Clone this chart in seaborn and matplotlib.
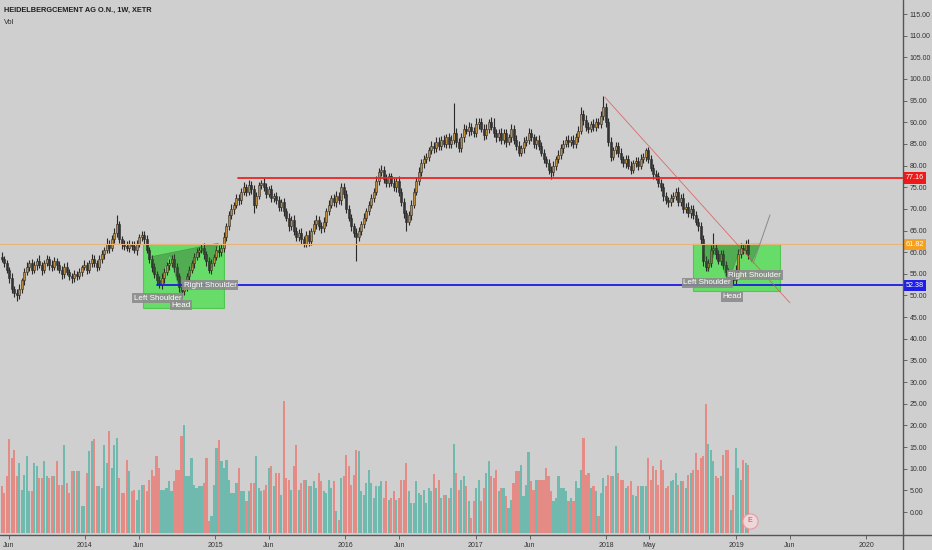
# heidelbergcement_weekly.py

# Import required libraries
import numpy as np
import pandas as pd
import matplotlib
matplotlib.use('Agg')
import matplotlib.pyplot as plt
import matplotlib.dates as mdates
import matplotlib.transforms as mtransforms
from matplotlib.patches import Rectangle, Polygon
from matplotlib.lines import Line2D
import seaborn as sns

# Weekly closes (EUR), first week starts 2013-05-13
closes = [
    58.5, 57.5, 56.0, 54.0, 51.5, 50.5, 50.0, 51.5, 53.5, 55.5,
    56.5, 57.5, 56.0, 57.0, 58.0, 57.0, 56.0, 57.5, 58.5, 57.0,
    56.5, 58.0, 57.0, 56.0, 55.0, 56.5, 55.5, 54.5, 54.0, 55.0,
    54.5, 55.5, 56.5, 57.0, 56.0, 57.5, 58.5, 57.5, 56.5, 58.5,
    59.5, 60.5, 62.0, 61.0, 63.0, 64.5, 66.5, 63.0, 62.0, 61.5,
    61.0, 62.0, 61.5, 60.5, 62.0, 63.5, 64.0, 63.0, 60.5, 58.5,
    56.5, 55.0, 53.5, 52.5, 54.0, 55.5, 57.0, 57.5, 58.5, 56.5,
    54.5, 52.0, 51.0, 52.0, 54.5, 56.0, 57.5, 59.0, 60.0, 60.5,
    61.0, 59.5, 58.0, 56.0, 57.5, 59.0, 60.5, 60.0, 61.0, 63.5,
    66.0, 68.5, 70.0, 71.0, 72.5, 72.0, 74.0, 75.0, 74.0, 75.5,
    74.5, 71.0, 73.0, 75.5, 76.0, 75.0, 73.5, 74.5, 72.5, 73.0,
    72.0, 70.5, 71.5, 69.5, 68.0, 66.0, 67.5, 65.0, 63.5, 64.5,
    63.0, 62.0, 64.0, 62.5, 65.0, 66.5, 67.5, 66.0, 65.5, 67.0,
    69.5, 71.0, 72.5, 71.5, 73.0, 72.0, 75.0, 73.5, 70.0, 68.0,
    66.0, 64.5, 63.5, 65.0, 66.5, 68.0, 69.5, 71.0, 72.5, 74.0,
    76.5, 78.5, 79.0, 77.0, 76.0, 77.5, 76.0, 75.0, 76.5, 74.0,
    71.5, 69.0, 67.0, 68.5, 71.0, 74.0, 76.5, 78.5, 80.5, 81.5,
    82.0, 83.5, 84.5, 84.0, 85.5, 84.5, 86.0, 85.0, 86.5, 85.0,
    86.0, 87.5, 85.5, 84.0, 86.5, 88.5, 88.0, 89.0, 88.0, 87.5,
    89.5, 90.0, 88.5, 87.0, 88.5, 90.0, 89.0, 87.5, 86.5, 87.5,
    86.0, 87.5, 85.5, 86.5, 88.5, 86.0, 84.5, 83.0, 84.0, 85.5,
    86.0, 87.5, 86.5, 85.0, 86.0, 84.5, 83.0, 81.5, 80.5, 79.0,
    78.5, 80.0, 81.5, 82.5, 84.0, 85.0, 86.0, 85.5, 86.0, 85.0,
    86.5, 88.0, 92.0, 90.5, 89.0, 88.5, 89.5, 89.0, 90.0, 89.5,
    91.5, 93.5, 90.0, 85.5, 82.0, 83.5, 84.5, 83.0, 81.5, 80.5,
    81.5, 80.0, 79.0, 80.5, 81.0, 80.0, 81.5, 82.0, 83.5, 81.5,
    79.5, 78.0, 77.5, 76.0, 75.0, 73.0, 72.0, 71.5, 72.5, 73.0,
    74.0, 71.5, 72.5, 70.0, 70.5, 69.0, 70.0, 68.5, 67.0, 66.0,
    63.0, 58.0, 56.5, 57.5, 60.5, 61.0, 59.5, 58.0, 59.5, 57.0,
    55.5, 54.0, 54.5, 53.5, 56.0, 59.5, 61.0, 60.5, 62.0, 59.5,
]

# Wick lengths above / below the candle body
upper_wick = [
    1.0, 0.6, 0.8, 0.5, 1.2, 0.7, 0.9, 1.1, 0.6, 0.8,
    1.2, 0.7, 0.9, 1.0, 0.6, 1.3, 0.8, 0.7, 0.9, 0.6,
    1.1, 0.8, 0.6, 1.0, 0.7, 0.9, 1.2, 0.6, 0.8, 1.0,
    0.7, 0.9, 0.6, 1.1, 0.8, 0.7, 1.0, 0.9, 0.6, 0.8,
    1.0, 0.7, 1.2, 0.8, 0.9, 1.1, 2.1, 0.8, 0.7, 0.9,
    1.0, 0.8, 0.6, 1.1, 0.9, 0.7, 0.8, 1.0, 0.9, 0.7,
    0.8, 1.0, 0.7, 0.9, 1.2, 0.8, 0.7, 1.0, 0.8, 1.1,
    0.9, 0.7, 0.8, 1.0, 0.6, 0.9, 0.8, 0.7, 1.0, 0.8,
    0.9, 1.1, 0.7, 0.8, 1.0, 0.6, 0.9, 1.1, 0.8, 1.2,
    0.8, 0.9, 1.1, 0.7, 1.0, 0.9, 0.8, 1.2, 0.7, 1.1,
    0.9, 1.0, 0.8, 0.7, 0.7, 1.1, 0.9, 0.8, 1.0, 0.7,
    0.9, 1.0, 0.8, 0.9, 0.7, 1.1, 0.8, 1.0, 0.9, 0.8,
    1.0, 0.8, 0.9, 1.1, 0.7, 0.9, 1.0, 0.8, 0.9, 1.1,
    0.8, 1.0, 0.7, 0.9, 1.1, 0.8, 1.0, 0.9, 0.8, 1.0,
    0.9, 0.8, 1.0, 0.9, 0.7, 1.1, 0.8, 0.9, 1.0, 0.8,
    1.0, 0.9, 1.2, 0.8, 1.0, 0.9, 0.8, 1.1, 0.7, 1.0,
    0.9, 1.1, 0.8, 0.9, 1.0, 0.8, 0.9, 1.1, 1.0, 0.9,
    1.0, 0.8, 1.1, 0.9, 1.0, 1.2, 0.8, 1.0, 0.9, 1.1,
    1.0, 6.9, 1.2, 0.9, 1.0, 1.1, 0.9, 1.0, 0.8, 1.0,
    1.5, 1.0, 0.9, 1.1, 1.0, 0.8, 1.2, 2.0, 0.9, 1.0,
    1.1, 0.9, 1.0, 0.8, 1.2, 0.9, 1.0, 1.1, 0.8, 1.0,
    0.9, 1.1, 1.0, 0.8, 0.9, 1.1, 1.0, 0.9, 0.8, 1.0,
    0.9, 1.0, 0.8, 1.1, 0.9, 1.0, 0.8, 1.1, 0.9, 1.0,
    1.0, 1.2, 1.5, 0.9, 1.1, 1.0, 0.9, 1.2, 1.0, 0.9,
    1.1, 2.5, 1.0, 0.9, 1.2, 0.8, 1.0, 0.9, 1.1, 0.8,
    1.0, 0.9, 1.1, 0.8, 1.0, 0.9, 1.1, 1.0, 0.5, 0.9,
    1.0, 0.8, 0.9, 1.1, 0.8, 1.0, 0.9, 0.8, 1.0, 0.9,
    0.8, 1.0, 0.9, 1.1, 0.8, 1.0, 0.9, 0.8, 1.0, 0.9,
    1.0, 0.9, 1.1, 1.0, 1.2, 3.4, 0.9, 1.0, 1.1, 0.9,
    1.0, 0.8, 1.1, 0.9, 1.0, 1.2, 1.1, 1.0, 0.9, 1.0,
]
lower_wick = [
    0.8, 1.0, 0.7, 1.1, 0.9, 0.8, 1.2, 0.7, 0.9, 1.0,
    0.7, 0.9, 1.1, 0.8, 1.0, 0.7, 1.2, 0.9, 0.8, 1.0,
    0.9, 0.7, 1.0, 0.8, 1.1, 0.9, 0.7, 1.0, 1.1, 0.8,
    1.0, 0.8, 0.9, 0.7, 1.1, 0.8, 0.9, 1.0, 0.8, 0.7,
    0.9, 1.0, 0.8, 1.1, 0.7, 0.9, 1.0, 0.8, 1.2, 0.9,
    0.8, 1.0, 0.9, 0.7, 1.1, 0.8, 0.9, 1.0, 0.8, 1.1,
    1.0, 0.9, 1.1, 0.7, 0.9, 1.0, 0.8, 1.1, 0.9, 1.0,
    0.9, 1.2, 1.3, 0.8, 1.0, 0.9, 0.8, 1.1, 0.9, 1.0,
    0.8, 1.0, 1.1, 0.9, 1.0, 0.8, 0.9, 1.1, 0.8, 0.9,
    1.0, 0.8, 0.9, 1.1, 0.8, 1.0, 0.9, 0.8, 1.1, 0.9,
    1.0, 2.0, 0.9, 0.8, 1.0, 0.9, 1.1, 0.8, 1.0, 0.9,
    0.8, 1.0, 0.9, 1.1, 0.8, 1.0, 0.9, 1.0, 0.8, 0.9,
    1.0, 0.8, 0.9, 1.0, 0.8, 0.9, 1.1, 0.8, 1.0, 0.9,
    0.9, 1.0, 0.8, 0.9, 1.1, 0.8, 1.0, 0.9, 1.0, 0.9,
    1.0, 0.9, 5.5, 0.8, 1.0, 0.9, 0.8, 1.0, 0.9, 0.8,
    0.9, 1.0, 0.8, 1.1, 0.9, 1.0, 0.8, 0.9, 1.0, 1.1,
    0.9, 1.0, 2.0, 0.8, 1.0, 0.9, 0.8, 1.0, 0.9, 1.0,
    0.8, 1.0, 0.9, 1.1, 0.8, 1.0, 0.9, 0.8, 1.0, 0.9,
    1.0, 0.9, 1.1, 0.8, 0.9, 1.0, 0.8, 1.1, 0.9, 1.0,
    0.9, 1.0, 0.8, 1.1, 0.9, 1.0, 0.8, 0.9, 1.0, 0.8,
    1.0, 0.9, 1.1, 0.8, 1.0, 0.9, 1.0, 0.8, 0.9, 1.0,
    0.9, 1.0, 0.8, 0.9, 1.1, 1.0, 0.9, 1.0, 0.8, 0.9,
    1.5, 0.9, 1.0, 0.8, 0.9, 1.0, 0.8, 1.1, 0.9, 1.0,
    0.9, 1.0, 0.8, 1.1, 0.9, 1.0, 0.8, 0.9, 1.0, 0.9,
    0.8, 1.0, 1.2, 0.9, 1.0, 0.8, 0.9, 1.0, 0.8, 0.9,
    1.0, 0.9, 1.0, 0.8, 0.9, 1.0, 0.8, 0.9, 1.0, 0.9,
    0.8, 1.0, 0.9, 1.0, 0.8, 1.1, 0.9, 1.0, 0.8, 0.9,
    1.0, 0.9, 0.8, 1.0, 0.9, 0.8, 1.0, 0.9, 0.8, 1.0,
    1.0, 1.2, 0.9, 0.8, 1.0, 0.9, 1.1, 0.8, 1.0, 0.9,
    0.9, 1.0, 0.8, 0.9, 1.0, 0.9, 0.8, 1.0, 0.9, 1.0,
]

# Weekly volume (relative units)
volume = [
    47, 40, 57, 94, 75, 83, 57, 70, 43, 58,
    77, 42, 42, 70, 67, 55, 55, 72, 57, 55,
    57, 57, 72, 48, 48, 88, 50, 40, 62, 62,
    62, 62, 27, 27, 60, 82, 92, 94, 47, 47,
    45, 88, 70, 102, 65, 88, 95, 55, 40, 40,
    73, 62, 42, 43, 33, 43, 48, 48, 42, 53,
    63, 57, 77, 65, 43, 43, 45, 52, 42, 52,
    63, 63, 97, 108, 57, 57, 75, 48, 45, 47,
    47, 50, 75, 12, 17, 48, 85, 93, 72, 65,
    73, 53, 40, 40, 50, 65, 42, 42, 32, 42,
    50, 50, 77, 45, 42, 43, 48, 65, 67, 47,
    60, 60, 38, 132, 55, 53, 43, 67, 88, 43,
    50, 53, 53, 47, 47, 52, 45, 60, 52, 42,
    40, 53, 45, 52, 22, 13, 55, 57, 78, 67,
    48, 58, 83, 82, 42, 38, 50, 63, 50, 35,
    47, 47, 52, 35, 52, 33, 35, 42, 33, 35,
    53, 53, 70, 42, 30, 30, 52, 40, 38, 43,
    30, 45, 42, 59, 45, 53, 35, 38, 38, 35,
    45, 89, 60, 43, 53, 57, 47, 32, 15, 32,
    45, 53, 32, 45, 60, 72, 57, 55, 63, 42,
    45, 45, 37, 25, 33, 50, 62, 62, 68, 37,
    48, 81, 52, 43, 53, 53, 53, 53, 65, 57,
    42, 32, 35, 57, 45, 45, 42, 32, 35, 32,
    52, 45, 63, 95, 58, 60, 45, 47, 42, 17,
    40, 55, 47, 58, 57, 57, 87, 60, 53, 53,
    45, 47, 52, 38, 37, 47, 47, 47, 47, 75,
    53, 67, 63, 48, 73, 63, 45, 47, 52, 53,
    60, 48, 52, 52, 45, 58, 60, 63, 80, 63,
    75, 77, 129, 89, 83, 72, 57, 55, 57, 78,
    83, 83, 23, 38, 85, 65, 53, 73, 70, 68,
]

week_start = '2013-05-13'
first_open = 59.0

# x axis ticks
tick_dates = ['2013-06-01', '2014-01-01', '2014-06-01', '2015-01-01', '2015-06-01',
              '2016-01-01', '2016-06-01', '2017-01-01', '2017-06-01', '2018-01-01',
              '2018-05-01', '2019-01-01', '2019-06-01', '2020-01-01']
tick_labels = ['Jun', '2014', 'Jun', '2015', 'Jun', '2016', 'Jun', '2017', 'Jun',
               '2018', 'May', '2019', 'Jun', '2020']

# Horizontal levels: (price, start date, line colour, label colour)
levels = [
    (77.16, '2015-03-06', '#ee2424', '#f01818'),
    (61.82, '2013-05-01', '#e9b47a', '#f5a01e'),
    (52.38, '2014-07-22', '#1c1ce0', '#1e1ee6'),
]

# Inverse head & shoulders drawings
left_box = ('2014-06-12', '2015-01-26', 47.1, 61.9)
right_box = ('2018-09-01', '2019-05-04', 51.0, 61.9)
left_hs_dates = ['2014-07-07', '2014-07-25', '2014-08-27', '2014-09-29',
                 '2014-11-19', '2014-12-22', '2015-01-10']
left_hs_prices = [59.0, 52.4, 59.4, 49.7, 61.3, 56.3, 62.1]
right_hs_dates = ['2018-09-30', '2018-10-14', '2018-11-08', '2018-12-09',
                  '2019-01-17', '2019-02-14', '2019-03-09']
right_hs_prices = [61.7, 55.4, 61.0, 52.9, 61.7, 57.7, 61.9]
hs_labels = [
    ('Left Shoulder', '2014-07-24', 49.4), ('Head', '2014-09-27', 47.8),
    ('Right Shoulder', '2014-12-18', 52.4), ('Left Shoulder', '2018-10-12', 52.9),
    ('Head', '2018-12-20', 49.7), ('Right Shoulder', '2019-02-22', 54.7),
]
trend_dates = ['2017-12-29', '2019-06-01']
trend_prices = [95.8, 48.3]
target_dates = ['2019-02-18', '2019-04-06']
target_prices = [57.4, 68.6]

# Build the candle table
df = pd.DataFrame({'close': closes, 'uw': upper_wick, 'lw': lower_wick, 'vol': volume})
df['date'] = pd.date_range(week_start, periods=len(df), freq='7D')
df['open'] = df['close'].shift(1).fillna(first_open)
df['high'] = df[['open', 'close']].max(axis=1) + df['uw']
df['low'] = df[['open', 'close']].min(axis=1) - df['lw']
df['up'] = df['close'] >= df['open']
x = mdates.date2num(df['date'])

def dn(d):
    return mdates.date2num(pd.Timestamp(d))

# Style
sns.set_theme(style='white')
plt.rcParams['font.family'] = ['Liberation Sans', 'DejaVu Sans']
bg = '#cfcfcf'
up_col, down_col = '#bf8d3e', '#343434'
vol_up, vol_down = '#6fb9ae', '#e38b84'

fig = plt.figure(figsize=(9.32, 5.5), dpi=100, facecolor=bg)
ax = fig.add_axes([0, 15 / 550, 903 / 932, 535 / 550])
ax.set_facecolor(bg)
vax = ax.twinx()

# Volume bars
vcols = np.where(df['up'], vol_up, vol_down)
vax.bar(x, df['vol'], width=6.0, color=vcols, linewidth=0)
vax.set_ylim(-2, 533)
vax.set_yticks([])

# Candles
body_low = np.minimum(df['open'], df['close'])
body_h = np.maximum(np.abs(df['close'] - df['open']), 0.25)
ax.vlines(x, df['low'], df['high'], color='#2a2a2a', linewidth=0.8, zorder=3)
ax.bar(x, body_h, bottom=body_low, width=5.6,
       color=np.where(df['up'], up_col, down_col), edgecolor='#2a2a2a',
       linewidth=0.4, zorder=4)

# Green boxes
for b in [left_box, right_box]:
    ax.add_patch(Rectangle((dn(b[0]), b[2]), dn(b[1]) - dn(b[0]), b[3] - b[2],
                           facecolor='#4be04b', edgecolor='#3cc43c', alpha=0.78,
                           linewidth=0.8, zorder=2))

# Head & shoulders shapes
for ds, ps in [(left_hs_dates, left_hs_prices), (right_hs_dates, right_hs_prices)]:
    pts = np.column_stack([[dn(d) for d in ds], ps])
    ax.add_patch(Polygon(pts, closed=True, facecolor='#2f5f2f', alpha=0.38,
                         edgecolor='#2d6a2d', linewidth=0.5, zorder=5))

# Levels
xmin, xmax = dn('2013-05-08'), dn('2020-04-13')
trans = mtransforms.blended_transform_factory(ax.transAxes, ax.transData)
for price, start, lc, bc in levels:
    lw = 0.8 if price == 61.82 else 1.3
    ax.plot([max(dn(start), xmin), xmax], [price, price], color=lc, linewidth=lw, zorder=6)
    ax.text(1.003, price, f'{price:.2f}', transform=trans, ha='left', va='center',
            fontsize=5.2, color='white', clip_on=False, zorder=20,
            bbox=dict(boxstyle='square,pad=0.3', fc=bc, ec='none'))

# Trend and target lines
ax.plot([dn(d) for d in trend_dates], trend_prices, color='#e05050', linewidth=0.6,
        alpha=0.8, zorder=6)
ax.plot([dn(d) for d in target_dates], target_prices, color='#8a8a8a', linewidth=0.7,
        zorder=6)

# Pattern labels
for txt, d, p in hs_labels:
    ax.text(dn(d), p, txt, ha='center', va='center', fontsize=5.8, color='white',
            zorder=8, bbox=dict(boxstyle='square,pad=0.2', fc='#8c8c8c', ec='none', alpha=0.9))

# Earnings marker
vax.scatter([dn('2019-02-08')], [12], s=120, facecolor='#efd6d8', edgecolor='#e59aa4',
            linewidth=0.8, zorder=10)
vax.text(dn('2019-02-08'), 12, 'E', ha='center', va='center', fontsize=5,
         color='#e0687a', fontweight='bold', zorder=11)

# Axes
ax.set_xlim(xmin, xmax)
ax.set_ylim(-5.31, 118.24)
ax.yaxis.set_ticks_position('right')
ax.set_yticks(np.arange(0, 116, 5))
ax.set_yticklabels([f'{v:.2f}' for v in np.arange(0, 116, 5)])
ax.set_xticks([dn(d) for d in tick_dates])
ax.set_xticklabels(tick_labels)
ax.tick_params(axis='y', which='both', right=True, left=False, direction='out', length=3,
               width=0.6, color='#555555', labelsize=5, labelcolor='#333333', pad=2)
ax.tick_params(axis='x', bottom=True, direction='out', length=3, width=0.6,
               color='#555555', labelsize=5, labelcolor='#333333', pad=2)
for a in [ax, vax]:
    for s in a.spines.values():
        s.set_visible(False)
ax.grid(False)
vax.grid(False)

# Frame lines
fig.add_artist(Line2D([0, 1], [15 / 550, 15 / 550], transform=fig.transFigure,
                      color='#555555', linewidth=1.0))
fig.add_artist(Line2D([903 / 932, 903 / 932], [0, 1], transform=fig.transFigure,
                      color='#555555', linewidth=1.0))

# Header
fig.text(4 / 932, 1 - 10 / 550, 'HEIDELBERGCEMENT AG O.N., 1W, XETR', fontsize=5.3,
         fontweight='bold', color='#1e1e1e', va='center', ha='left')
fig.text(4 / 932, 1 - 23 / 550, 'Vol', fontsize=5.3, color='#2a2a2a', va='center', ha='left')

fig.savefig('out.png', dpi=100, facecolor=bg)
